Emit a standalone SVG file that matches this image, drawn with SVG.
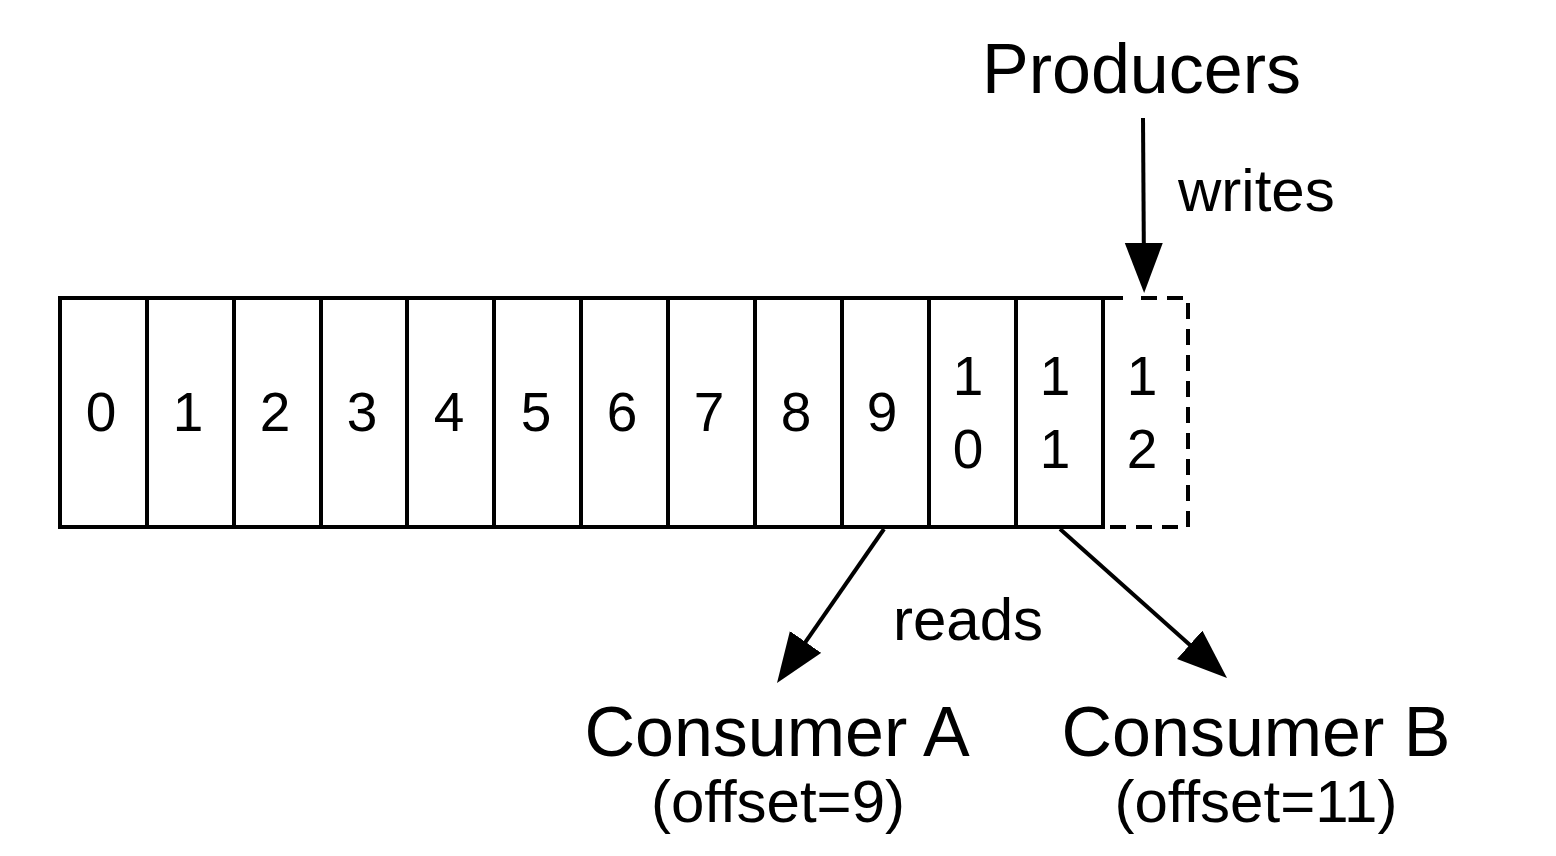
<svg xmlns="http://www.w3.org/2000/svg" width="1556" height="856" viewBox="0 0 1556 856">
  <style>
    .cell { fill: none; stroke: #000; stroke-width: 4; }
    .dash { fill: none; stroke: #000; stroke-width: 4; stroke-dasharray: 16 10; }
    .edge { fill: none; stroke: #000; stroke-width: 4; }
    text { font-family: "Liberation Sans", Arial, Helvetica, sans-serif; fill: #000; }
    .num { font-size: 55px; text-anchor: middle; }
    .big { font-size: 70px; }
    .mid { font-size: 60px; }
  </style>
  <defs>
    <marker id="arrow" markerUnits="userSpaceOnUse" markerWidth="52" markerHeight="40" refX="30" refY="19" orient="auto">
      <path d="M0,0 L50,19 L0,38 Z" fill="#000"/>
    </marker>
  </defs>

  <!-- log segments -->
  <g id="log">
    <rect class="cell" x="60" y="298" width="1043" height="229"/>
    <line class="cell" x1="1103" y1="298" x2="1123" y2="298"/>
    <g class="cell">
      <line x1="147" y1="298" x2="147" y2="527"/>
      <line x1="234" y1="298" x2="234" y2="527"/>
      <line x1="321" y1="298" x2="321" y2="527"/>
      <line x1="407" y1="298" x2="407" y2="527"/>
      <line x1="494" y1="298" x2="494" y2="527"/>
      <line x1="581" y1="298" x2="581" y2="527"/>
      <line x1="668" y1="298" x2="668" y2="527"/>
      <line x1="755" y1="298" x2="755" y2="527"/>
      <line x1="842" y1="298" x2="842" y2="527"/>
      <line x1="929" y1="298" x2="929" y2="527"/>
      <line x1="1016" y1="298" x2="1016" y2="527"/>
    </g>
    <text class="num" x="101" y="431">0</text>
    <text class="num" x="188" y="431">1</text>
    <text class="num" x="275" y="431">2</text>
    <text class="num" x="362" y="431">3</text>
    <text class="num" x="449" y="431">4</text>
    <text class="num" x="536" y="431">5</text>
    <text class="num" x="622" y="431">6</text>
    <text class="num" x="709" y="431">7</text>
    <text class="num" x="796" y="431">8</text>
    <text class="num" x="882" y="431">9</text>
    <text class="num" x="968" y="395">1</text>
    <text class="num" x="968" y="468">0</text>
    <text class="num" x="1055" y="395">1</text>
    <text class="num" x="1055" y="468">1</text>
  </g>

  <!-- segment being appended -->
  <g id="next-segment">
    <path class="dash" d="M1141,298 H1188 V527 H1103 V298"/>
    <text class="num" x="1142" y="395">1</text>
    <text class="num" x="1142" y="468">2</text>
  </g>

  <g id="producers">
    <text class="big" x="982" y="93">Producers</text>
  </g>

  <g id="consumer-a">
    <text class="big" x="777" y="756" text-anchor="middle">Consumer A</text>
    <text class="mid" x="778" y="822" text-anchor="middle">(offset=9)</text>
  </g>

  <g id="consumer-b">
    <text class="big" x="1256" y="756" text-anchor="middle">Consumer B</text>
    <text class="mid" x="1256" y="822" text-anchor="middle">(offset=11)</text>
  </g>

  <!-- connectors -->
  <g id="connectors">
    <line class="edge" x1="1143" y1="118" x2="1144" y2="273" marker-end="url(#arrow)"/>
    <line class="edge" x1="884" y1="529" x2="788.4" y2="666.6" marker-end="url(#arrow)"/>
    <line class="edge" x1="1060" y1="529" x2="1212.1" y2="664.7" marker-end="url(#arrow)"/>
    <text class="mid" x="1178" y="211">writes</text>
    <text class="mid" x="893" y="640">reads</text>
  </g>
</svg>
